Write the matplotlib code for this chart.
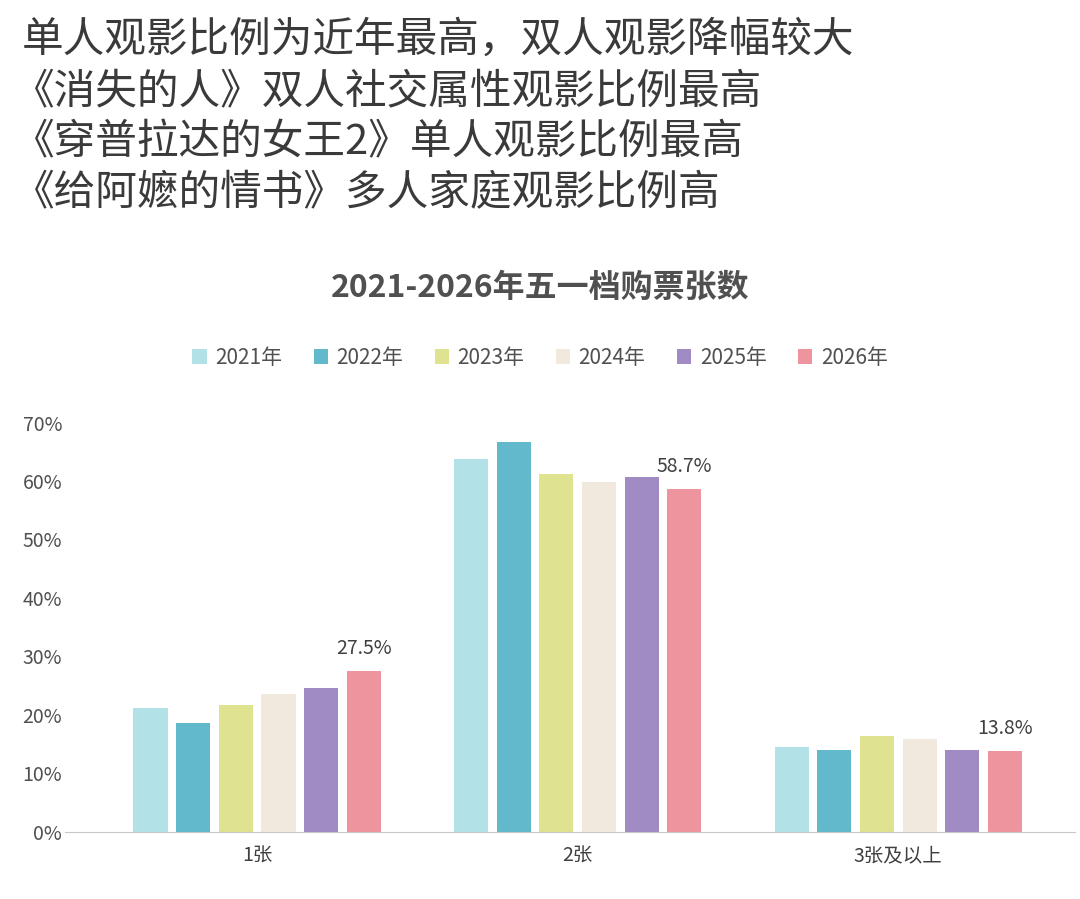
import matplotlib
matplotlib.use("Agg")
import matplotlib.pyplot as plt
import numpy as np

plt.rcParams['font.family'] = ['Noto Sans CJK SC', 'DejaVu Sans']

categories = ["1张", "2张", "3张及以上"]
years = ["2021年", "2022年", "2023年", "2024年", "2025年", "2026年"]
values = {
    "2021年": [21.1, 63.8, 14.4],
    "2022年": [18.5, 66.7, 13.9],
    "2023年": [21.6, 61.2, 16.3],
    "2024年": [23.5, 59.9, 15.8],
    "2025年": [24.5, 60.7, 13.9],
    "2026年": [27.5, 58.7, 13.8],
}
colors = ["#b2e1e7", "#62b9cb", "#dfe28f", "#f1e9dd", "#a08bc5", "#ee949f"]
headline = ["单人观影比例为近年最高，双人观影降幅较大",
            "《消失的人》双人社交属性观影比例最高",
            "《穿普拉达的女王2》单人观影比例最高",
            "《给阿嬷的情书》多人家庭观影比例高"]

fig = plt.figure(figsize=(10.8, 8.99), dpi=100)
for i, line in enumerate(headline):
    fig.text(0.02 if i == 0 else 0.012, 0.978 - i*0.057, line, fontsize=30, fontweight='medium',
             color='#3a3a3a', va='top', ha='left')
fig.text(0.5, 0.68, "2021-2026年五一档购票张数", fontsize=23, fontweight='bold',
         color='#505050', ha='center', va='center')

ax = fig.add_axes([0.06, 0.075, 0.935, 0.455])
x = np.arange(len(categories))
w = 0.133
for i, (y, c) in enumerate(zip(years, colors)):
    pos = x + (i - 2.5) * w
    ax.bar(pos, values[y], width=w*0.8, color=c, label=y)
    if i == 5:
        for p, v in zip(pos, values[y]):
            ax.text(p, v + 2, f"{v:.1f}%", ha='center', va='bottom', fontsize=14, color='#404040')
ax.set_ylim(0, 70)
ax.set_xlim(-0.6, 2.55)
ax.set_yticks(range(0, 71, 10))
ax.set_yticklabels([f"{t}%" for t in range(0, 71, 10)], fontsize=14, color='#505050')
ax.set_xticks(x)
ax.set_xticklabels(categories, fontsize=14, color='#404040')
for s in ['top', 'right', 'left']:
    ax.spines[s].set_visible(False)
ax.spines['bottom'].set_color('#c8c8c8')
ax.tick_params(length=0)
ax.tick_params(axis='y', pad=2)
ax.tick_params(axis='x', pad=10)
fig.legend(loc='center', bbox_to_anchor=(0.5, 0.602), ncol=6, frameon=False, fontsize=15,
           handlelength=0.7, handleheight=0.7, columnspacing=1.5, handletextpad=0.4,
           labelcolor='#505050')
fig.savefig("out.png", dpi=100)
